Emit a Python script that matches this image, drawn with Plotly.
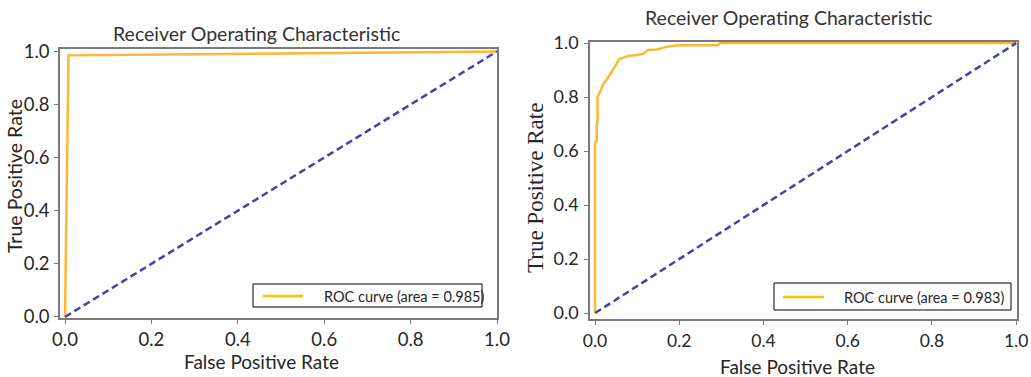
import plotly.graph_objects as go

W, H = 1031, 377

# Data
fpr_left = [0.0, 0.008, 1.0]
tpr_left = [0.0, 0.985, 1.0]
auc_left = 0.985

fpr_right = [0.0, 0.0, 0.004, 0.004, 0.006, 0.006, 0.012, 0.016, 0.020, 0.028, 0.034, 0.040,
             0.046, 0.052, 0.057, 0.066, 0.078, 0.095, 0.114, 0.120, 0.126, 0.147, 0.160,
             0.170, 0.197, 0.290, 0.297, 1.0]
tpr_right = [0.0, 0.63, 0.64, 0.70, 0.71, 0.80, 0.82, 0.838, 0.85, 0.865, 0.88, 0.893,
             0.905, 0.925, 0.94, 0.945, 0.952, 0.955, 0.96, 0.968, 0.974, 0.976, 0.982,
             0.986, 0.992, 0.992, 1.0, 1.0]
auc_right = 0.983

chance = [0.0, 1.0]
x_ticks = [0.0, 0.2, 0.4, 0.6, 0.8, 1.0]
y_ticks = [0.0, 0.2, 0.4, 0.6, 0.8, 1.0]

ORANGE = "#FFB733"
LEG_ORANGE = "#FFC000"
NAVY = "#4242AA"
FRAME = "#7a7a7a"
TXT = "#262626"
SANS = "Lato, 'Open Sans', sans-serif"
SERIF = "'Liberation Serif', 'DejaVu Serif', serif"

def px(x):
    return x / W

def py(y):
    return 1 - y / H

fig = go.Figure()

fig.add_trace(go.Scatter(x=fpr_left, y=tpr_left, mode="lines",
                         line=dict(color=ORANGE, width=2.5),
                         name=f"ROC curve (area = {auc_left})",
                         xaxis="x", yaxis="y", showlegend=False))
fig.add_trace(go.Scatter(x=chance, y=chance, mode="lines",
                         line=dict(color=NAVY, width=2.5, dash="7px,4px"),
                         showlegend=False, xaxis="x", yaxis="y"))
fig.add_trace(go.Scatter(x=fpr_right, y=tpr_right, mode="lines",
                         line=dict(color=ORANGE, width=2.5),
                         name=f"ROC curve (area = {auc_right})",
                         xaxis="x2", yaxis="y2", showlegend=False))
fig.add_trace(go.Scatter(x=chance, y=chance, mode="lines",
                         line=dict(color=NAVY, width=2.5, dash="7px,4px"),
                         showlegend=False, xaxis="x2", yaxis="y2"))

axis_common = dict(showline=True, mirror=True, linecolor=FRAME, linewidth=1.5,
                   ticks="outside", ticklen=4, tickcolor=FRAME, tickwidth=1,
                   showgrid=False, zeroline=False, tickformat=".1f", automargin=False)

fig.update_layout(
    width=W, height=H,
    margin=dict(l=0, r=0, t=0, b=0, pad=0),
    paper_bgcolor="white", plot_bgcolor="white",
    font=dict(family=SANS, color=TXT),
    showlegend=False,
    xaxis=dict(domain=[px(60), px(497)], range=[-0.0116, 1.0], tickvals=x_ticks,
               anchor="y", tickfont=dict(size=18.5), ticklabelstandoff=0, **axis_common),
    yaxis=dict(domain=[py(318), py(49)], range=[-0.004, 1.009], tickvals=y_ticks,
               anchor="x", tickfont=dict(size=18.5), ticklabelstandoff=1, **axis_common),
    xaxis2=dict(domain=[px(590), px(1017)], range=[-0.012, 1.002], tickvals=x_ticks,
                anchor="y2", tickfont=dict(size=17.5), ticklabelstandoff=1, **axis_common),
    yaxis2=dict(domain=[py(319), py(42)], range=[-0.022, 1.004], tickvals=y_ticks,
                anchor="x2", tickfont=dict(size=18), ticklabelstandoff=2, **axis_common),
)

# Legend boxes (drawn as shapes + text, matching the reference's compact legend)
legends = [
    dict(box=(253, 284, 482, 307), line=(263, 303, 296), text_x=322, text_y=296,
         label=f"ROC curve (area = {auc_left})"),
    dict(box=(774, 283, 1011, 310), line=(783, 824, 297), text_x=842, text_y=297,
         label=f"ROC curve (area = {auc_right})"),
]
shapes = []
annotations = []
for lg in legends:
    x0, y0, x1, y1 = lg["box"]
    shapes.append(dict(type="rect", xref="paper", yref="paper",
                       x0=px(x0), x1=px(x1), y0=py(y1), y1=py(y0),
                       line=dict(color="black", width=1), fillcolor="white", layer="above"))
    lx0, lx1, ly = lg["line"]
    shapes.append(dict(type="line", xref="paper", yref="paper",
                       x0=px(lx0), x1=px(lx1), y0=py(ly), y1=py(ly),
                       line=dict(color=LEG_ORANGE, width=2.5), layer="above"))
    annotations.append(dict(text=lg["label"], x=px(lg["text_x"]), y=py(lg["text_y"]),
                            xanchor="left", yanchor="middle",
                            font=dict(size=14.5, color=TXT, family=SANS)))

texts = [
    dict(text="Receiver Operating Characteristic", x=px(256), y=py(33),
         font=dict(size=19.5, color="#333333", family=SANS)),
    dict(text="Receiver Operating Characteristic", x=px(788), y=py(18),
         font=dict(size=19.5, color="#333333", family=SANS)),
    dict(text="False Positive Rate", x=px(261), y=py(361),
         font=dict(size=19, color=TXT, family=SANS)),
    dict(text="False Positive Rate", x=px(797), y=py(366),
         font=dict(size=19, color=TXT, family=SANS)),
    dict(text="True Positive Rate", x=px(14), y=py(176), textangle=-90,
         font=dict(size=19.5, color=TXT, family=SANS)),
    dict(text="True Positive Rate", x=px(536), y=py(188), textangle=-90,
         font=dict(size=23, color=TXT, family=SERIF)),
]
for t in texts:
    t.update(xanchor="center", yanchor="middle")
annotations = texts + annotations
for a in annotations:
    a.update(xref="paper", yref="paper", showarrow=False)
fig.update_layout(annotations=annotations, shapes=shapes)

fig.write_html("out.html", config={"displayModeBar": False},
               post_script="document.body.style.margin='0';")
